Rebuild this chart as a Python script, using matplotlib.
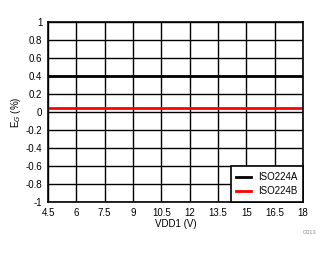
import numpy as np
import matplotlib as mpl

mpl.use('Agg')

import matplotlib.pyplot as plt

# supply voltage sweep and gain error (%)
vdd1 = [4.5, 6, 7.5, 9, 10.5, 12, 13.5, 15, 16.5, 18]
eg_a = [0.4, 0.4, 0.4, 0.4, 0.4, 0.4, 0.4, 0.4, 0.4, 0.4]
eg_b = [0.05, 0.05, 0.05, 0.05, 0.05, 0.05, 0.05, 0.05, 0.05, 0.05]
xticks = [4.5, 6, 7.5, 9, 10.5, 12, 13.5, 15, 16.5, 18]
yticks = [-1, -0.8, -0.6, -0.4, -0.2, 0, 0.2, 0.4, 0.6, 0.8, 1]

plt.rcParams['font.family'] = ['Liberation Sans', 'DejaVu Sans']

fig = plt.figure(figsize=(3.36, 2.54), dpi=100)
ax = fig.add_axes([48 / 336, 1 - 202 / 254, (303 - 48) / 336, (202 - 22) / 254])

ax.plot(vdd1, eg_a, color='black', lw=2, label='ISO224A')
ax.plot(vdd1, eg_b, color='red', lw=2, label='ISO224B')

ax.set_xlim(4.5, 18)
ax.set_ylim(-1, 1)
ax.set_xticks(xticks)
ax.set_xticklabels(['%g' % v for v in xticks])
ax.set_yticks(yticks)
ax.set_yticklabels(['%g' % v for v in yticks])
ax.grid(True, color='black', lw=1)
ax.set_axisbelow(True)
for s in ax.spines.values():
    s.set_linewidth(1.2)
ax.tick_params(length=0, labelsize=7, pad=4)

ax.set_xlabel('VDD1 (V)', fontsize=7, labelpad=1)
ax.set_ylabel('E$_G$ (%)', fontsize=7, labelpad=2)

leg = ax.legend(loc='lower right', fontsize=7, frameon=True, fancybox=False,
                borderaxespad=0, handlelength=1.5, handletextpad=0.7,
                borderpad=0.6, labelspacing=0.4)
leg.get_frame().set_edgecolor('black')
leg.get_frame().set_linewidth(1.2)
leg.get_frame().set_alpha(1)

fig.text(310 / 336, 1 - 232 / 254, 'G013', fontsize=4, color='#888888',
         ha='center', va='center')

fig.savefig('out.png', dpi=100)
